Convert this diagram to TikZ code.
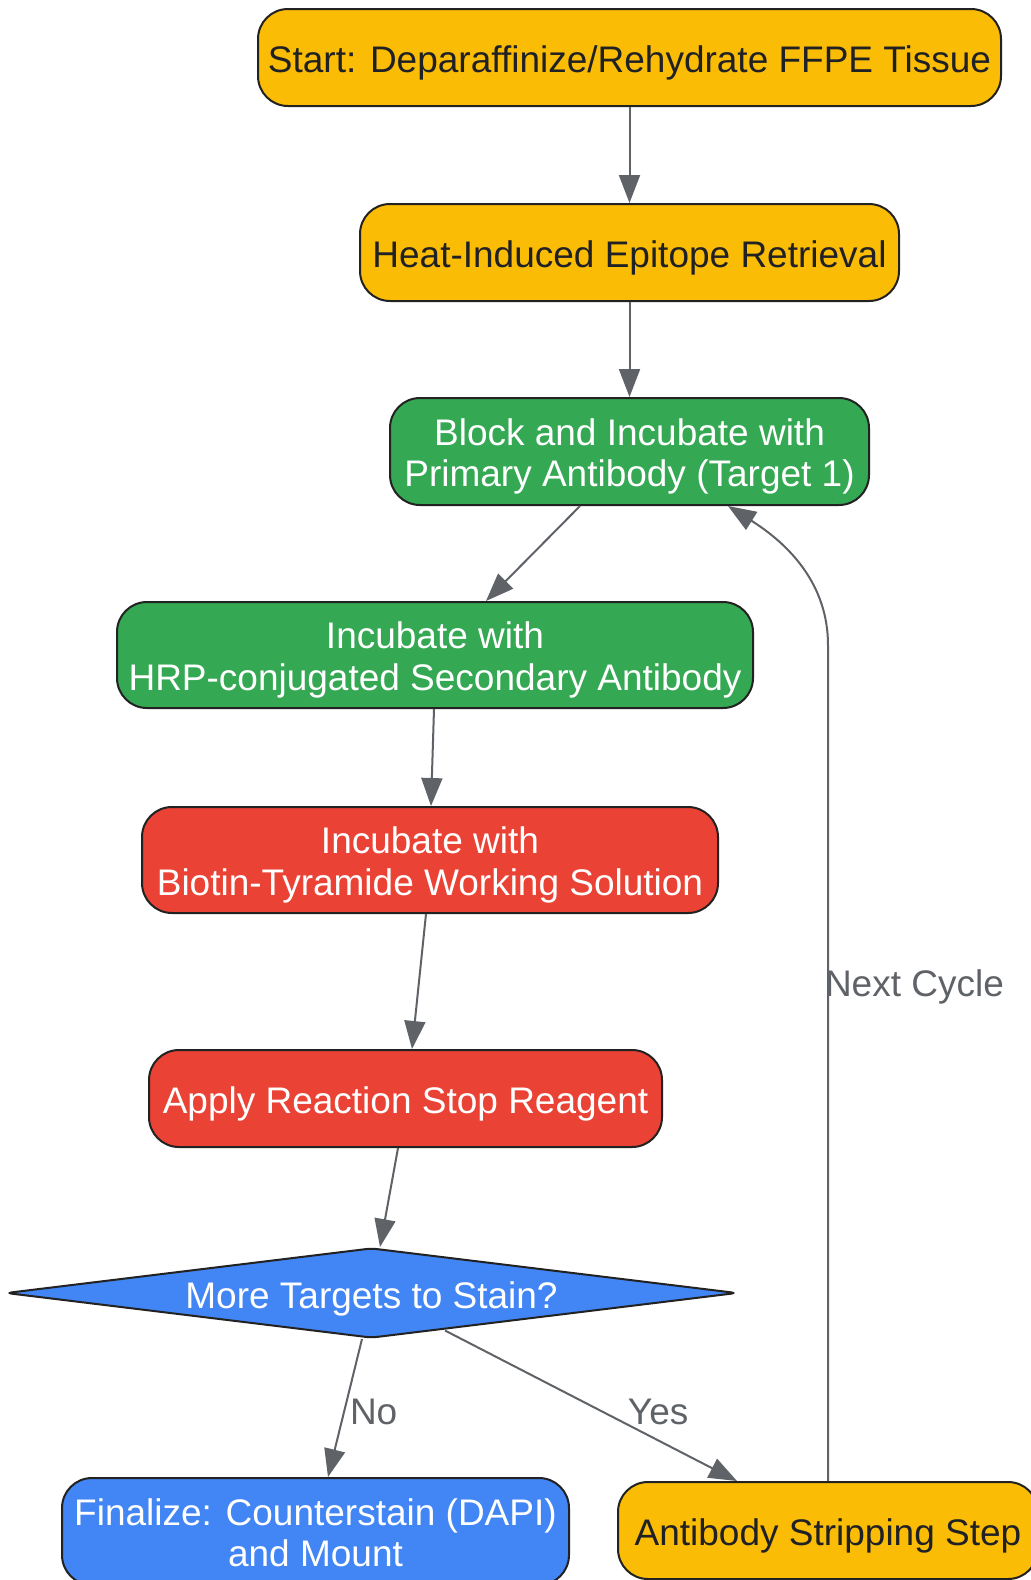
\documentclass[tikz,border=0pt]{standalone}
\usepackage{fontspec}
\setmainfont{Liberation Sans}
\usetikzlibrary{arrows.meta,shapes.geometric,calc}
\definecolor{cy}{HTML}{FBBC05}
\definecolor{cg}{HTML}{34A853}
\definecolor{cr}{HTML}{EA4335}
\definecolor{cb}{HTML}{4285F4}
\definecolor{edgec}{HTML}{5F6368}
\definecolor{bord}{HTML}{222222}
\definecolor{dtext}{HTML}{202124}
\newcommand{\mytxt}[1]{\rule{0pt}{37pt}#1\rule[-8pt]{0pt}{8pt}}
\newcommand{\mytwo}[2]{\rule{0pt}{37pt}#1\\#2\rule[-8pt]{0pt}{8pt}}
\begin{document}
\begin{tikzpicture}[x=1pt,y=-1pt,
  box/.style={draw=bord, line width=2pt, rounded corners=30pt, inner sep=0pt, align=center,
    font=\fontsize{37}{41.5}\selectfont},
  ybox/.style={box, fill=cy, text=dtext},
  gbox/.style={box, fill=cg, text=white},
  rbox/.style={box, fill=cr, text=white},
  bbox/.style={box, fill=cb, text=white},
  dia/.style={diamond, draw=bord, line width=2pt, rounded corners=6pt, fill=cb, text=white,
    inner sep=0pt, shape aspect=8, text height=30pt, text depth=0pt,
    minimum width=731pt, minimum height=90pt,
    font=\fontsize{37}{41.5}\selectfont},
  flow/.style={draw=edgec, line width=2pt, -{Triangle[length=28pt,width=21pt]}},
  elabel/.style={text=edgec, inner sep=0pt, font=\fontsize{37}{41.5}\selectfont}]
\useasboundingbox (0,0) rectangle (1031,1580);
\fill[white] (0,0) rectangle (1031,1580);

\node[ybox, minimum width=743pt, minimum height=97pt] (start) at (629.5,57.5) {\mytxt{Start: Deparaffinize/Rehydrate FFPE Tissue}};
\node[ybox, minimum width=539pt, minimum height=97pt] (hier) at (629.5,252.5) {\mytxt{Heat-Induced Epitope Retrieval}};
\node[gbox, minimum width=479pt, minimum height=107pt] (block) at (629.5,451.5) {\mytwo{Block and Incubate with}{Primary Antibody (Target 1)}};
\node[gbox, minimum width=636pt, minimum height=106pt] (hrp) at (435,655) {\mytwo{Incubate with}{HRP-conjugated Secondary Antibody}};
\node[rbox, minimum width=576pt, minimum height=106pt] (bio) at (430,860) {\mytwo{Incubate with}{Biotin-Tyramide Working Solution}};
\node[rbox, minimum width=513pt, minimum height=97pt] (stop) at (405.5,1098.5) {\mytxt{Apply Reaction Stop Reagent}};
\node[dia] (dec) at (371.5,1293) {More Targets to Stain?};
\node[bbox, minimum width=507pt, minimum height=107pt] (fin) at (315.5,1531.5) {\mytwo{Finalize: Counterstain (DAPI)}{and Mount}};
\node[ybox, minimum width=420pt, minimum height=97pt] (strip) at (828,1530.5) {\mytxt{Antibody Stripping Step}};

\coordinate (bend) at (828,645);

\draw[flow] (start.south) -- (hier.north);
\draw[flow] (hier.south) -- (block.north);
\draw[flow] ($(block.south)+(-49.5,0)$) -- ($(hrp.north)+(51,0)$);
\draw[flow] ($(hrp.south)+(-1,0)$) -- ($(bio.north)+(1,0)$);
\draw[flow] ($(bio.south)+(-4,0)$) -- ($(stop.north)+(6.5,0)$);
\draw[flow] ($(stop.south)+(-7.5,0)$) -- ($(dec.north)+(8.5,0)$);
\draw[flow] ($(dec.south)+(-9.5,0)$) -- node[elabel, anchor=west, xshift=4pt, yshift=-4pt] {No} ($(fin.north)+(12.5,0)$);
\draw[flow] ($(dec.south)+(73.5,-8.5)$) -- node[elabel, pos=0.73, yshift=28pt] {Yes} ($(strip.north)+(-91,0)$);
\draw[flow] (strip.north) -- node[elabel, pos=0.591, anchor=west, xshift=-4pt] {Next Cycle} (bend)
  .. controls (828,585) and (790,545) .. ($(block.south)+(98.5,0)$);
\end{tikzpicture}
\end{document}
